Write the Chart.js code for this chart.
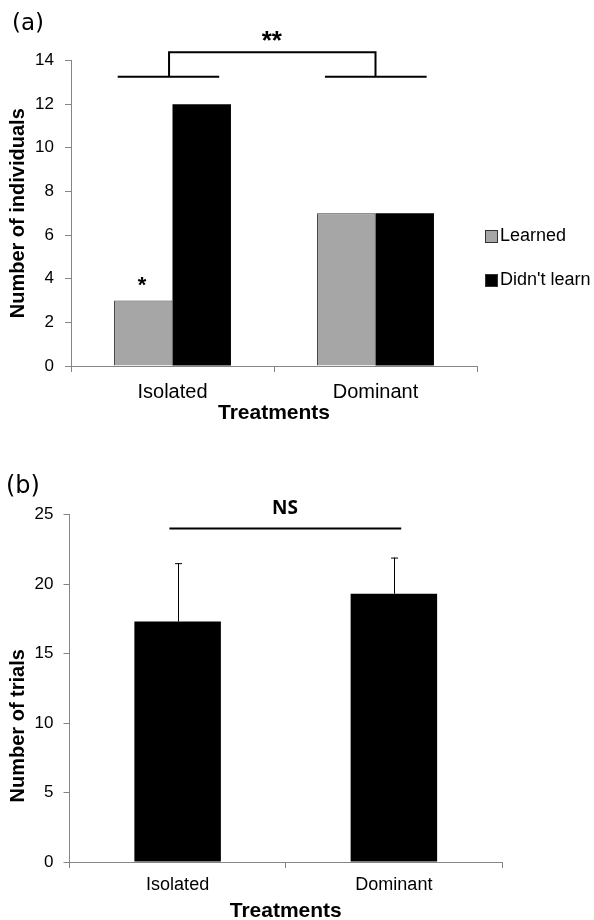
<!DOCTYPE html>
<html>
<head>
<meta charset="utf-8">
<script src="https://cdn.jsdelivr.net/npm/chart.js@4.4.1/dist/chart.umd.min.js"></script>
<style>
  html, body { margin: 0; padding: 0; background: #fff; overflow: hidden; }
  .panel { position: absolute; left: 0; width: 594px; }
  #panelA { top: 0; height: 440px; }
  #panelB { top: 440px; height: 490px; }
</style>
</head>
<body>
<div class="panel" id="panelA"><canvas id="chartA" width="594" height="440"></canvas></div>
<div class="panel" id="panelB"><canvas id="chartB" width="594" height="490"></canvas></div>
<script>
// ---- data ----
const treatments = ['Isolated', 'Dominant'];
const seriesNames = ['Learned', "Didn't learn"];
const learnedCounts = [3, 7];
const notLearnedCounts = [12, 7];
const countTicks = [0, 2, 4, 6, 8, 10, 12, 14];

const trialMeans = [17.3, 19.3];
const trialErrors = [4.2, 2.6];
const trialTicks = [0, 5, 10, 15, 20, 25];

// ---- shared style ----
Chart.defaults.font.family = "'Liberation Sans', Arial, sans-serif";
Chart.defaults.color = '#000';
const AXIS_GREY = '#858585';
const SANS = "'Liberation Sans', Arial, sans-serif";

function fixedTicks(values) {
  return scale => { scale.ticks = values.map(v => ({ value: v })); };
}

// draw text so that the visible glyphs are centred on (cx, cy)
function drawGlyphCentered(ctx, text, cx, cy) {
  ctx.textAlign = 'left';
  ctx.textBaseline = 'alphabetic';
  const m = ctx.measureText(text);
  const L = m.actualBoundingBoxLeft, R = m.actualBoundingBoxRight;
  const A = m.actualBoundingBoxAscent, D = m.actualBoundingBoxDescent;
  ctx.fillText(text, cx - (R - L) / 2, cy + (A - D) / 2);
}

// ---- panel (a): learning outcome counts ----
const annotateA = {
  id: 'annotateA',
  afterDraw(chart) {
    const { ctx, scales: { x, y }, chartArea } = chart;
    ctx.save();

    // panel letter
    ctx.fillStyle = '#000';
    ctx.font = "23px 'DejaVu Sans', sans-serif";
    ctx.textAlign = 'left';
    ctx.textBaseline = 'middle';
    ctx.fillText('(a)', 12, 24);

    // significance bracket between the two treatments
    ctx.strokeStyle = '#000';
    ctx.lineWidth = 2;
    const yLow = y.getPixelForValue(13.25);
    const yHigh = y.getPixelForValue(14.38);
    const legs = [
      { from: -0.27, mid: -0.017, to: 0.23 },
      { from: 0.751, mid: 1.0, to: 1.252 }
    ];
    ctx.beginPath();
    legs.forEach(l => {
      ctx.moveTo(x.getPixelForValue(l.from), yLow);
      ctx.lineTo(x.getPixelForValue(l.to), yLow);
      ctx.moveTo(x.getPixelForValue(l.mid), yLow);
      ctx.lineTo(x.getPixelForValue(l.mid), yHigh);
    });
    ctx.moveTo(x.getPixelForValue(legs[0].mid) - 1, yHigh);
    ctx.lineTo(x.getPixelForValue(legs[1].mid) + 1, yHigh);
    ctx.stroke();

    ctx.font = "bold 26px " + SANS;
    const midX = (x.getPixelForValue(legs[0].mid) + x.getPixelForValue(legs[1].mid)) / 2;
    drawGlyphCentered(ctx, '**', midX, y.getPixelForValue(15.1));

    // single star over the "Learned" bar of the isolated group
    const bar = chart.getDatasetMeta(0).data[0];
    ctx.font = "bold 22px " + SANS;
    drawGlyphCentered(ctx, '*', bar.x - 1, bar.y - 19.5);

    // legend
    const fills = chart.data.datasets.map(d => d.backgroundColor);
    const boxX = chartArea.right + 8;
    const rowY = [chartArea.top + 176, chartArea.top + 220];
    ctx.font = "18px " + SANS;
    ctx.textBaseline = 'middle';
    ctx.textAlign = 'left';
    chart.data.datasets.forEach((d, i) => {
      ctx.fillStyle = fills[i];
      ctx.fillRect(boxX, rowY[i] - 6.5, 13, 13);
      ctx.strokeStyle = '#333';
      ctx.lineWidth = 1;
      ctx.strokeRect(boxX + 0.5, rowY[i] - 6, 12, 12);
      ctx.fillStyle = '#000';
      ctx.fillText(d.label, boxX + 15, rowY[i]);
    });
    ctx.restore();
  }
};

new Chart(document.getElementById('chartA'), {
  type: 'bar',
  data: {
    labels: treatments,
    datasets: [
      { label: seriesNames[0], data: learnedCounts, backgroundColor: '#a6a6a6',
        borderColor: '#3c3c3c', borderWidth: 1 },
      { label: seriesNames[1], data: notLearnedCounts, backgroundColor: '#000000',
        borderColor: '#000000', borderWidth: 0 }
    ]
  },
  options: {
    responsive: false,
    animation: false,
    devicePixelRatio: 1,
    layout: { padding: { top: 60.5, right: 117, left: 0, bottom: 0 } },
    datasets: { bar: { categoryPercentage: 0.576, barPercentage: 1.0 } },
    plugins: { legend: { display: false }, tooltip: { enabled: false } },
    scales: {
      x: {
        offset: true,
        grid: { offset: true, drawOnChartArea: false, drawTicks: true, tickLength: 6, color: AXIS_GREY },
        border: { color: AXIS_GREY, width: 1 },
        ticks: { font: { size: 20 }, padding: 8, color: '#000' },
        title: { display: true, text: 'Treatments', font: { size: 21, weight: 'bold' },
                 padding: { top: 0, bottom: 14.5 }, color: '#000' },
        afterFit: s => { s.height = 74; }
      },
      y: {
        min: 0, max: 14,
        afterBuildTicks: fixedTicks(countTicks),
        grid: { drawOnChartArea: false, drawTicks: true, tickLength: 6, color: AXIS_GREY },
        border: { color: AXIS_GREY, width: 1 },
        ticks: { font: { size: 17 }, padding: 11, color: '#000' },
        title: { display: true, text: 'Number of individuals', font: { size: 20, weight: 'bold' },
                 padding: { top: 6, bottom: 0 }, color: '#000' },
        afterFit: s => { s.width = 71; }
      }
    }
  },
  plugins: [annotateA]
});

// ---- panel (b): trials to learn ----
const annotateB = {
  id: 'annotateB',
  afterDraw(chart) {
    const { ctx, scales: { x, y } } = chart;
    ctx.save();

    ctx.fillStyle = '#000';
    ctx.font = "24px 'DejaVu Sans', sans-serif";
    ctx.textAlign = 'left';
    ctx.textBaseline = 'middle';
    ctx.fillText('(b)', 6, 47);

    // y-axis title, set a little below the middle of the axis
    ctx.save();
    ctx.font = "bold 20px " + SANS;
    ctx.textAlign = 'center';
    ctx.textBaseline = 'middle';
    ctx.translate(18.5, y.getPixelForValue(9.8));
    ctx.rotate(-Math.PI / 2);
    ctx.fillText('Number of trials', 0, 0);
    ctx.restore();

    // upper error bars
    ctx.strokeStyle = '#000';
    ctx.lineWidth = 1;
    const meta = chart.getDatasetMeta(0);
    meta.data.forEach((bar, i) => {
      const top = y.getPixelForValue(trialMeans[i] + trialErrors[i]);
      const cx = Math.round(bar.x) + 0.5;
      ctx.beginPath();
      ctx.moveTo(cx, bar.y);
      ctx.lineTo(cx, top);
      ctx.moveTo(cx - 3.5, top + 0.5);
      ctx.lineTo(cx + 3.5, top + 0.5);
      ctx.stroke();
    });

    // comparison line with "NS"
    ctx.lineWidth = 2;
    const x0 = x.getPixelForValue(-0.038), x1 = x.getPixelForValue(1.034);
    const yl = y.getPixelForValue(24);
    ctx.beginPath();
    ctx.moveTo(x0, yl);
    ctx.lineTo(x1, yl);
    ctx.stroke();
    ctx.font = "bold 19px 'Open Sans', sans-serif";
    drawGlyphCentered(ctx, 'NS', (x0 + x1) / 2, y.getPixelForValue(25.56));
    ctx.restore();
  }
};

new Chart(document.getElementById('chartB'), {
  type: 'bar',
  data: {
    labels: treatments,
    datasets: [
      { label: 'Number of trials', data: trialMeans, backgroundColor: '#000000', borderWidth: 0 }
    ]
  },
  options: {
    responsive: false,
    animation: false,
    devicePixelRatio: 1,
    layout: { padding: { top: 74.5, right: 92, left: 0, bottom: 0 } },
    datasets: { bar: { categoryPercentage: 0.4, barPercentage: 1.0 } },
    plugins: { legend: { display: false }, tooltip: { enabled: false } },
    scales: {
      x: {
        offset: true,
        grid: { offset: true, drawOnChartArea: false, drawTicks: true, tickLength: 6, color: AXIS_GREY },
        border: { color: AXIS_GREY, width: 1 },
        ticks: { font: { size: 18 }, padding: 6, color: '#000' },
        title: { display: true, text: 'Treatments', font: { size: 21, weight: 'bold' },
                 padding: { top: 0, bottom: 5.7 }, color: '#000' },
        afterFit: s => { s.height = 68; }
      },
      y: {
        min: 0, max: 25,
        afterBuildTicks: fixedTicks(trialTicks),
        grid: { drawOnChartArea: false, drawTicks: true, tickLength: 6, color: AXIS_GREY },
        border: { color: AXIS_GREY, width: 1 },
        ticks: { font: { size: 17 }, padding: 10, color: '#000' },
        title: { display: false },
        afterFit: s => { s.width = 69.5; }
      }
    }
  },
  plugins: [annotateB]
});
</script>
</body>
</html>
